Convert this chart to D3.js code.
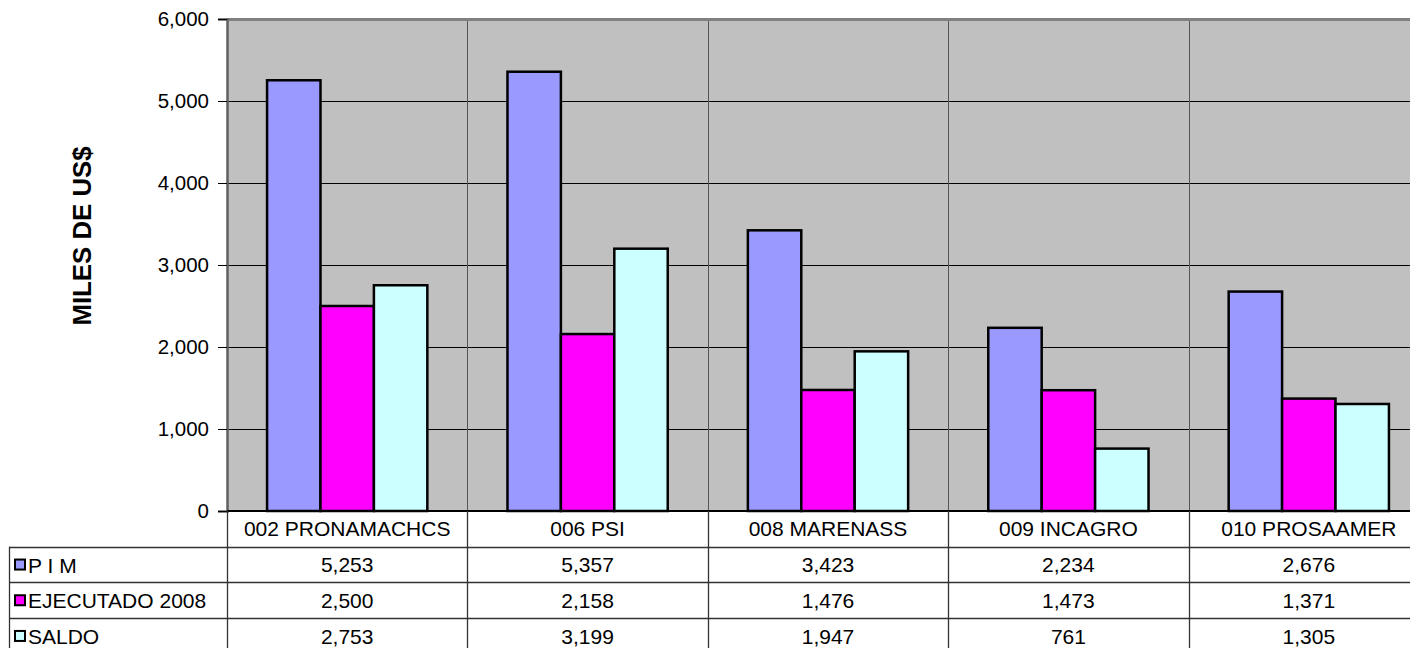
<!DOCTYPE html>
<html>
<head>
<meta charset="utf-8">
<script src="https://cdn.jsdelivr.net/npm/d3@7"></script>
<style>
  body { margin: 0; background: #fff; }
  svg { display: block; font-family: "Liberation Sans", Arial, sans-serif; }
</style>
</head>
<body>
<svg id="chart" width="1410" height="648"></svg>
<script>
const categories = ["002 PRONAMACHCS", "006 PSI", "008 MARENASS", "009 INCAGRO", "010 PROSAAMER"];
const seriesNames = ["P I M", "EJECUTADO 2008", "SALDO"];
const pim = [5253, 5357, 3423, 2234, 2676];
const ejecutado = [2500, 2158, 1476, 1473, 1371];
const saldo = [2753, 3199, 1947, 761, 1305];
const yTicks = [0, 1000, 2000, 3000, 4000, 5000, 6000];
const colors = ["#9999FF", "#FF00FF", "#CCFFFF"];

const series = [pim, ejecutado, saldo];
const fontFam = "Liberation Sans, Arial, sans-serif";

const svg = d3.select("#chart");
const plot = { left: 227, top: 19, right: 1429, bottom: 511 };

const x = d3.scaleBand()
    .domain(categories)
    .range([plot.left, plot.right]);

const y = d3.scaleLinear()
    .domain([0, 6000])
    .range([plot.bottom, plot.top]);

// bars inside a category, gap width 150%
const xs = d3.scaleBand()
    .domain(d3.range(series.length))
    .range([0, x.bandwidth()])
    .paddingInner(0)
    .paddingOuter(0.75);

const crisp = v => Math.round(v) + 0.5;

// background
svg.append("rect")
    .attr("x", plot.left)
    .attr("y", plot.top)
    .attr("width", plot.right - plot.left)
    .attr("height", plot.bottom - plot.top)
    .attr("fill", "#C0C0C0");

// horizontal gridlines
svg.append("g")
    .selectAll("line")
    .data(yTicks.filter(d => d > 0 && d < 6000))
    .enter().append("line")
    .attr("x1", plot.left).attr("x2", plot.right)
    .attr("y1", d => crisp(y(d))).attr("y2", d => crisp(y(d)))
    .attr("stroke", "#000").attr("stroke-width", 1);

// vertical category dividers
svg.append("g")
    .selectAll("line")
    .data(categories.slice(1))
    .enter().append("line")
    .attr("x1", d => crisp(x(d))).attr("x2", d => crisp(x(d)))
    .attr("y1", plot.top).attr("y2", plot.bottom)
    .attr("stroke", "#555").attr("stroke-width", 1);

// top border
svg.append("line")
    .attr("x1", plot.left).attr("x2", plot.right)
    .attr("y1", plot.top + 0.5).attr("y2", plot.top + 0.5)
    .attr("stroke", "#808080").attr("stroke-width", 3);

// bars
const groups = svg.append("g")
    .selectAll("g")
    .data(categories)
    .enter().append("g")
    .attr("transform", d => `translate(${x(d)},0)`);

groups.selectAll("rect")
    .data((d, i) => series.map((s, k) => ({ k: k, v: s[i] })))
    .enter().append("rect")
    .attr("x", d => xs(d.k))
    .attr("width", xs.bandwidth())
    .attr("y", d => y(d.v))
    .attr("height", d => y(0) - y(d.v))
    .attr("fill", d => colors[d.k])
    .attr("stroke", "#000")
    .attr("stroke-width", 2.5);

// y axis
const yAxis = svg.append("g")
    .attr("transform", `translate(${plot.left},0)`)
    .call(d3.axisLeft(y).tickValues(yTicks).tickFormat(d3.format(",")).tickSize(9).tickPadding(9));
yAxis.select(".domain").attr("stroke", "#606060").attr("stroke-width", 2.5);
yAxis.selectAll(".tick line").attr("stroke", "#000");
yAxis.selectAll("text")
    .attr("font-size", 20.5)
    .attr("fill", "#000")
    .attr("font-family", fontFam);

// bottom axis line
svg.append("line")
    .attr("x1", plot.left).attr("x2", plot.right)
    .attr("y1", plot.bottom).attr("y2", plot.bottom)
    .attr("stroke", "#000").attr("stroke-width", 2);

// y title
svg.append("text")
    .attr("transform", "translate(82,236) rotate(-90)")
    .attr("text-anchor", "middle")
    .attr("dy", "0.35em")
    .attr("font-size", 25.8)
    .attr("font-weight", "bold")
    .text("MILES DE US$");

// data table
const rowH = 35.7;
const tableTop = plot.bottom;
const tableLeft = 9;
const rowY = i => tableTop + rowH * (i + 1);

const table = svg.append("g").attr("font-size", 21);

table.selectAll("line.h")
    .data(d3.range(series.length))
    .enter().append("line")
    .attr("class", "h")
    .attr("x1", tableLeft).attr("x2", plot.right)
    .attr("y1", d => crisp(rowY(d))).attr("y2", d => crisp(rowY(d)))
    .attr("stroke", "#333").attr("stroke-width", 1.3);

table.selectAll("line.v")
    .data(categories)
    .enter().append("line")
    .attr("class", "v")
    .attr("x1", d => crisp(x(d))).attr("x2", d => crisp(x(d)))
    .attr("y1", tableTop).attr("y2", 648)
    .attr("stroke", "#333").attr("stroke-width", 1.3);

table.append("line")
    .attr("x1", tableLeft + 0.5).attr("x2", tableLeft + 0.5)
    .attr("y1", rowY(0)).attr("y2", 648)
    .attr("stroke", "#333").attr("stroke-width", 1.3);

// category labels
table.selectAll("text.cat")
    .data(categories)
    .enter().append("text")
    .attr("class", "cat")
    .attr("x", d => x(d) + x.bandwidth() / 2)
    .attr("y", tableTop + rowH / 2)
    .attr("dy", "0.36em")
    .attr("text-anchor", "middle")
    .text(d => d);

// legend keys, names and values
series.forEach((s, k) => {
    const cy = rowY(k) + rowH / 2;
    table.append("rect")
        .attr("x", 15).attr("y", cy - 5)
        .attr("width", 10).attr("height", 10)
        .attr("fill", colors[k])
        .attr("stroke", "#000").attr("stroke-width", 2);
    table.append("text")
        .attr("x", 28).attr("y", cy)
        .attr("dy", "0.38em")
        .text(seriesNames[k]);
    table.selectAll(null)
        .data(categories)
        .enter().append("text")
        .attr("x", d => x(d) + x.bandwidth() / 2)
        .attr("y", cy)
        .attr("dy", "0.36em")
        .attr("text-anchor", "middle")
        .text((d, i) => d3.format(",")(s[i]));
});
</script>
</body>
</html>
